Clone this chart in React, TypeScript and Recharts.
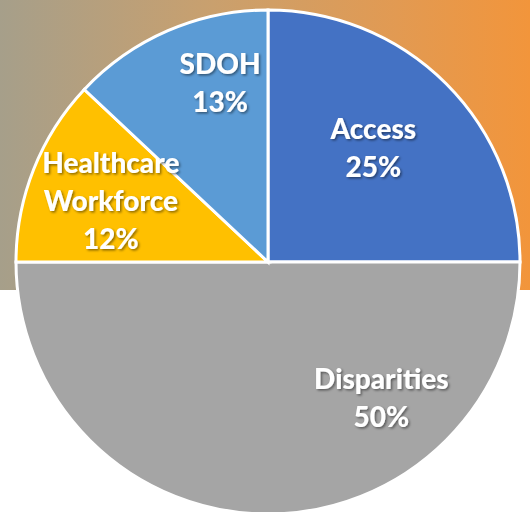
import React from "react";
import { PieChart, Pie, Cell } from "recharts";

const categories = ["Access", "Disparities", "Healthcare\nWorkforce", "SDOH"];
const values = [25, 50, 12, 13];
const percentLabels = ["25%", "50%", "12%", "13%"];
const colors = ["#4472C4", "#A5A5A5", "#FFC000", "#5B9BD5"];
// label placement: angle (deg) and radius fraction
const labelAngles = [47.6, -50, 158.6, 104.9];
const labelRadii = [0.62, 0.7, 0.67, 0.74];

const data = categories.map((name, i) => ({ name, value: values[i], pct: percentLabels[i] }));

const RAD = Math.PI / 180;

const renderLabel = (props: any) => {
  const { cx, cy, outerRadius, index } = props;
  const a = labelAngles[index];
  const r = outerRadius * labelRadii[index];
  const x = cx + r * Math.cos(a * RAD);
  const y = cy - r * Math.sin(a * RAD);
  const lines = [...categories[index].split("\n"), percentLabels[index]];
  const lh = 38;
  const y0 = y - ((lines.length - 1) * lh) / 2;
  return (
    <text
      x={x}
      y={y0}
      fill="#FFFFFF"
      textAnchor="middle"
      dominantBaseline="central"
      fontFamily="Lato, 'Noto Sans', sans-serif"
      fontWeight={900}
      fontSize={28}
      filter="url(#lblShadow)"
    >
      {lines.map((l, i) => (
        <tspan key={i} x={x} dy={i === 0 ? 0 : lh}>
          {l}
        </tspan>
      ))}
    </text>
  );
};

export default function App() {
  return (
    <div style={{ position: "absolute", left: 0, top: 0, width: 530, height: 512, overflow: "hidden", background: "#FFFFFF" }}>
      <div
        style={{
          position: "absolute",
          left: 0,
          top: 0,
          width: 530,
          height: 290,
          background: "linear-gradient(to right, #A69F8A 0%, #C9A06E 40%, #E29A52 75%, #F2953B 100%)",
        }}
      />
      <div style={{ position: "absolute", left: 0, top: 0 }}>
        <PieChart width={530} height={512} margin={{ top: 0, right: 0, bottom: 0, left: 0 }}>
          <defs>
            <filter id="lblShadow" x="-20%" y="-20%" width="140%" height="140%">
              <feDropShadow dx="1.5" dy="1.5" stdDeviation="1" floodColor="#000000" floodOpacity="0.45" />
            </filter>
          </defs>
          <Pie
            data={data}
            dataKey="value"
            nameKey="name"
            cx={268}
            cy={262}
            outerRadius={252}
            startAngle={90}
            endAngle={-270}
            stroke="#FFFFFF"
            strokeWidth={3}
            label={renderLabel}
            labelLine={false}
            isAnimationActive={false}
          >
            {data.map((d, i) => (
              <Cell key={d.name} fill={colors[i]} />
            ))}
          </Pie>
        </PieChart>
      </div>
    </div>
  );
}
